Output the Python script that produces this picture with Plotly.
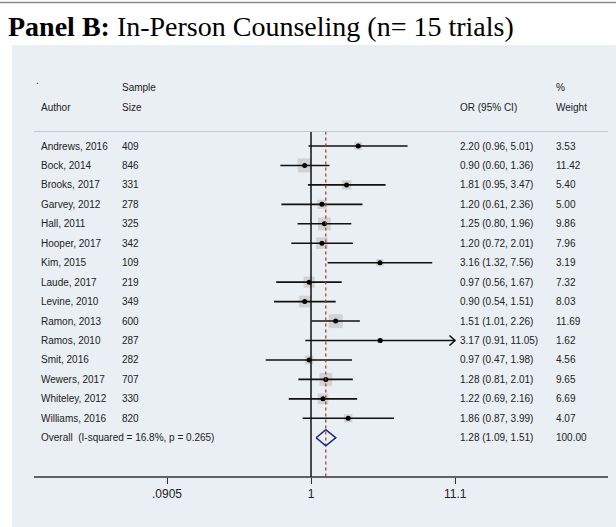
import numpy as np
import plotly.graph_objects as go

# ---------------- data ----------------
authors = ["Andrews, 2016", "Bock, 2014", "Brooks, 2017", "Garvey, 2012", "Hall, 2011",
           "Hooper, 2017", "Kim, 2015", "Laude, 2017", "Levine, 2010", "Ramon, 2013",
           "Ramos, 2010", "Smit, 2016", "Wewers, 2017", "Whiteley, 2012", "Williams, 2016"]
sample_size = [409, 846, 331, 278, 325, 342, 109, 219, 349, 600, 287, 282, 707, 330, 820]
odds_ratio = [2.20, 0.90, 1.81, 1.20, 1.25, 1.20, 3.16, 0.97, 0.90, 1.51, 3.17, 0.97, 1.28, 1.22, 1.86]
ci_low = [0.96, 0.60, 0.95, 0.61, 0.80, 0.72, 1.32, 0.56, 0.54, 1.01, 0.91, 0.47, 0.81, 0.69, 0.87]
ci_high = [5.01, 1.36, 3.47, 2.36, 1.96, 2.01, 7.56, 1.67, 1.51, 2.26, 11.05, 1.98, 2.01, 2.16, 3.99]
weights = [3.53, 11.42, 5.40, 5.00, 9.86, 7.96, 3.19, 7.32, 8.03, 11.69, 1.62, 4.56, 9.65, 6.69, 4.07]
overall_or = 1.28
overall_low = 1.09
overall_high = 1.51
overall_weight = 100.00
i_squared = "16.8%"
p_het = "0.265"
tick_vals = [0.0905, 1, 11.1]
tick_text = [".0905", "1", "11.1"]
title_bold = "Panel B:"
title_rest = " In-Person Counseling (n= 15 trials)"

# ---------------- geometry ----------------
W, H = 616, 527
T, B = 45, 50
plot_h = H - T - B
x1_px, px_dec = 311.0, 138.0
row0_px, row_px = 146.0, 19.45
y_top = (T - row0_px) / row_px
y_bot = (H - B - row0_px) / row_px
hdr_line_k = (131.5 - row0_px) / row_px
x_range = [(0 - x1_px) / px_dec, (W - x1_px) / px_dec]
x_clip = tick_vals[-1]

def pxx(p):
    return p / W

def pyy(p):
    return 1 - (p - T) / plot_h

text_font = dict(family="Liberation Sans, Arial", size=10, color="#222")
col_author, col_n, col_or, col_w = 39, 120, 458, 554

n = len(authors)
k = np.arange(n)
k_overall = n

fig = go.Figure()

# boxes
fig.add_trace(go.Scatter(
    x=odds_ratio, y=k, mode="markers",
    marker=dict(symbol="square", size=[4.1 * np.sqrt(w) for w in weights],
                color="#c6c6c6", line=dict(width=0)),
    hoverinfo="skip", showlegend=False))

# CI lines
xs, ys = [], []
arrow_rows = []
for i in range(n):
    hi = min(ci_high[i], x_clip)
    xs += [ci_low[i], hi, None]
    ys += [k[i], k[i], None]
    if ci_high[i] >= 0.99 * x_clip:
        arrow_rows.append(i)
for i in arrow_rows:
    tip = ci_high[i]
    back = tip * 10 ** (-5.5 / px_dec)
    dy = 5.0 / row_px
    xs += [back, tip, back, None]
    ys += [k[i] - dy, k[i], k[i] + dy, None]
fig.add_trace(go.Scatter(x=xs, y=ys, mode="lines", line=dict(color="#111", width=1.6),
                         hoverinfo="skip", showlegend=False))

# point estimates
fig.add_trace(go.Scatter(x=odds_ratio, y=k, mode="markers",
                         marker=dict(symbol="circle", size=5, color="#000"),
                         hoverinfo="skip", showlegend=False))

# null line and overall dashed line
fig.add_trace(go.Scatter(x=[1, 1], y=[hdr_line_k, y_bot], mode="lines",
                         line=dict(color="#111", width=1.5), hoverinfo="skip", showlegend=False))
fig.add_trace(go.Scatter(x=[overall_or, overall_or], y=[hdr_line_k, y_bot], mode="lines",
                         line=dict(color="#b03030", width=1.2, dash="3px,3px"),
                         hoverinfo="skip", showlegend=False))

# diamond
dh = 8.0 / row_px
fig.add_trace(go.Scatter(
    x=[overall_low, overall_or, overall_high, overall_or, overall_low],
    y=[k_overall, k_overall - dh, k_overall, k_overall + dh, k_overall],
    mode="lines", line=dict(color="#1c2580", width=1.6),
    hoverinfo="skip", showlegend=False))

shapes = [
    dict(type="rect", xref="paper", yref="paper", x0=pxx(12), x1=1.02, y0=-0.3, y1=1,
         fillcolor="#e9eff2", line=dict(width=0), layer="below"),
    dict(type="line", xref="paper", yref="paper", x0=0, x1=1, y0=pyy(2.5), y1=pyy(2.5),
         line=dict(color="#8a8a8a", width=1.5)),
    dict(type="line", xref="paper", yref="y", x0=pxx(34), x1=pxx(608), y0=hdr_line_k, y1=hdr_line_k,
         line=dict(color="#c5ccd1", width=1)),
    dict(type="line", xref="paper", yref="paper", x0=pxx(34), x1=pxx(608), y0=0, y1=0,
         line=dict(color="#333", width=1.3)),
]

ann = []
def add_text(px, kk, txt, font=text_font):
    ann.append(dict(x=pxx(px), y=kk, xref="paper", yref="y", text=txt, showarrow=False,
                    xanchor="left", yanchor="middle", font=font))

add_text(34, -3.35, ".")
add_text(col_n, -3, "Sample")
add_text(col_w, -3, "%")
add_text(col_author, -2, "Author")
add_text(col_n, -2, "Size")
add_text(col_or, -2, "OR (95% CI)")
add_text(col_w, -2, "Weight")
for i in range(n):
    add_text(col_author, k[i], authors[i])
    add_text(col_n, k[i], str(sample_size[i]))
    add_text(col_or, k[i], f"{odds_ratio[i]:.2f} ({ci_low[i]:.2f}, {ci_high[i]:.2f})")
    add_text(col_w, k[i], f"{weights[i]:.2f}")
add_text(col_author, k_overall, f"Overall  (I-squared = {i_squared}, p = {p_het})")
add_text(col_or, k_overall, f"{overall_or:.2f} ({overall_low:.2f}, {overall_high:.2f})")
add_text(col_w, k_overall, f"{overall_weight:.2f}")

ann.append(dict(x=pxx(6), y=pyy(26), xref="paper", yref="paper",
                text=f"<b>{title_bold}</b>{title_rest}", showarrow=False,
                xanchor="left", yanchor="middle",
                font=dict(family="Liberation Serif, Times New Roman", size=28, color="#000")))

fig.update_layout(
    width=W, height=H,
    margin=dict(l=0, r=0, t=T, b=B, pad=0),
    paper_bgcolor="white", plot_bgcolor="rgba(0,0,0,0)",
    shapes=shapes, annotations=ann, showlegend=False,
    xaxis=dict(type="log", range=x_range, tickvals=tick_vals, ticktext=tick_text,
               ticks="outside", ticklen=6, tickwidth=1.3, tickcolor="#333",
               showgrid=False, zeroline=False, showline=False,
               tickfont=dict(family="Liberation Sans, Arial", size=12, color="#222")),
    yaxis=dict(range=[y_bot, y_top], visible=False, showgrid=False, zeroline=False),
)

fig.write_html("out.html", config={"displayModeBar": False})
